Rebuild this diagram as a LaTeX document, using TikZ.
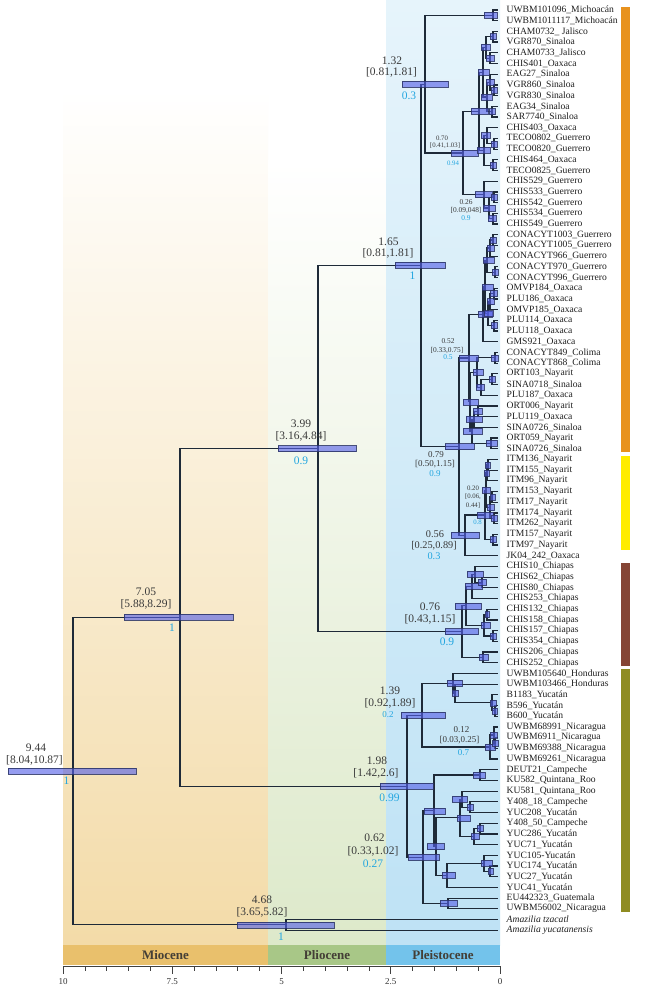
\documentclass[tikz,border=0pt]{standalone}
\usepackage{fontspec}
\setmainfont{Liberation Serif}
\definecolor{treec}{HTML}{1E2A38}
\definecolor{barc}{HTML}{5560E8}
\definecolor{bard}{HTML}{2A3366}
\definecolor{mioc}{HTML}{F3DBA8}
\definecolor{plio}{HTML}{DDE9CA}
\definecolor{pleitop}{HTML}{E6F4FB}
\definecolor{pleibot}{HTML}{BEE2F5}
\definecolor{miob}{HTML}{E9C06C}
\definecolor{plib}{HTML}{A8C787}
\definecolor{pleb}{HTML}{73C3EB}
\definecolor{labc}{HTML}{3A3A3A}
\definecolor{postc}{HTML}{23A6E0}
\definecolor{cOr}{HTML}{E8921E}
\definecolor{cYe}{HTML}{FFEC00}
\definecolor{cBr}{HTML}{854535}
\definecolor{cOl}{HTML}{8F8C22}
\definecolor{epc}{HTML}{443F36}
\tikzset{
 br/.style={draw=treec, line width=1.2pt},
 bar/.style={fill=barc, fill opacity=0.62, draw=bard, draw opacity=0.85, line width=0.5pt},
 tip/.style={anchor=west, inner sep=0pt, text=black!88, font=\fontsize{9.6}{10}\selectfont},
 agebig/.style={inner sep=0pt, text=labc, font=\fontsize{11.5}{12}\selectfont},
 agemid/.style={inner sep=0pt, text=labc, font=\fontsize{9}{10}\selectfont},
 agesm/.style={inner sep=0pt, text=labc, font=\fontsize{6.8}{7}\selectfont},
 postbig/.style={inner sep=0pt, text=postc, font=\fontsize{11.5}{12}\selectfont},
 postmid/.style={inner sep=0pt, text=postc, font=\fontsize{9}{10}\selectfont},
 postsm/.style={inner sep=0pt, text=postc, font=\fontsize{6.8}{7}\selectfont},
 eplab/.style={inner sep=0pt, text=epc, font=\fontsize{13}{14}\selectfont\bfseries},
 axlab/.style={inner sep=0pt, text=black!80, font=\fontsize{9}{10}\selectfont},
}
\newcommand\hpd[3]{\path[bar] (#1,#3-3) rectangle (#2,#3+3);}
\begin{document}
\begin{tikzpicture}[x=1pt,y=-1pt]
\useasboundingbox (0,0) rectangle (669,990);
\fill[white] (0,0) rectangle (669,990);
% epoch backgrounds
\shade[top color=white, bottom color=mioc] (63,90) rectangle (268,945);
\shade[top color=white, bottom color=plio] (268,160) rectangle (386,945);
\shade[top color=pleitop, bottom color=pleibot] (386,0) rectangle (500,945);
% epoch band
\fill[miob] (63,945) rectangle (268,965);
\fill[plib] (268,945) rectangle (386,965);
\fill[pleb] (386,945) rectangle (500,965);
\node[eplab] (eMio) at (165.5,955.5) {Miocene};
\node[eplab] (ePli) at (327,955.5) {Pliocene};
\node[eplab] (ePle) at (443,955.5) {Pleistocene};
% axis
\draw[black!75, line width=0.8pt] (63,966) -- (500,966);
\foreach \k in {0,...,20}{
  \draw[black!75, line width=0.7pt] ({500-\k*0.5*43.7},966) -- ({500-\k*0.5*43.7},970.5);
}
\foreach \v/\t in {10/10,7.5/7.5,5/5,2.5/2.5,0/0}{
  \draw[black!75, line width=0.8pt] ({500-\v*43.7},966) -- ({500-\v*43.7},973.5);
  \node[axlab] (ax\t) at ({500-\v*43.7},982) {\t};
}
% clade colour bars
\fill[cOr] (621,7) rectangle (630,452);
\fill[cYe] (621,456) rectangle (630,550);
\fill[cBr] (621,563) rectangle (630,666);
\fill[cOl] (621,669) rectangle (630,912);
% tips
\foreach \lab [count=\i] in {
UWBM101096\_Michoacán, UWBM1011117\_Michoacán, CHAM0732\_ Jalisco, VGR870\_Sinaloa,
CHAM0733\_Jalisco, CHIS401\_Oaxaca, EAG27\_Sinaloa, VGR860\_Sinaloa, VGR830\_Sinaloa,
EAG34\_Sinaloa, SAR7740\_Sinaloa, CHIS403\_Oaxaca, TECO0802\_Guerrero, TECO0820\_Guerrero,
CHIS464\_Oaxaca, TECO0825\_Guerrero, CHIS529\_Guerrero, CHIS533\_Guerrero, CHIS542\_Guerrero,
CHIS534\_Guerrero, CHIS549\_Guerrero, CONACYT1003\_Guerrero, CONACYT1005\_Guerrero,
CONACYT966\_Guerrero, CONACYT970\_Guerrero, CONACYT996\_Guerrero, OMVP184\_Oaxaca,
PLU186\_Oaxaca, OMVP185\_Oaxaca, PLU114\_Oaxaca, PLU118\_Oaxaca, GMS921\_Oaxaca,
CONACYT849\_Colima, CONACYT868\_Colima, ORT103\_Nayarit, SINA0718\_Sinaloa, PLU187\_Oaxaca,
ORT006\_Nayarit, PLU119\_Oaxaca, SINA0726\_Sinaloa, ORT059\_Nayarit, SINA0726\_Sinaloa,
ITM136\_Nayarit, ITM155\_Nayarit, ITM96\_Nayarit, ITM153\_Nayarit, ITM17\_Nayarit,
ITM174\_Nayarit, ITM262\_Nayarit, ITM157\_Nayarit, ITM97\_Nayarit, JK04\_242\_Oaxaca,
CHIS10\_Chiapas, CHIS62\_Chiapas, CHIS80\_Chiapas, CHIS253\_Chiapas, CHIS132\_Chiapas,
CHIS158\_Chiapas, CHIS157\_Chiapas, CHIS354\_Chiapas, CHIS206\_Chiapas, CHIS252\_Chiapas,
UWBM105640\_Honduras, UWBM103466\_Honduras, B1183\_Yucatán, B596\_Yucatán, B600\_Yucatán,
UWBM68991\_Nicaragua, UWBM6911\_Nicaragua, UWBM69388\_Nicaragua, UWBM69261\_Nicaragua,
DEUT21\_Campeche, KU582\_Quintana\_Roo, KU581\_Quintana\_Roo, Y408\_18\_Campeche,
YUC208\_Yucatán, Y408\_50\_Campeche, YUC286\_Yucatán, YUC71\_Yucatán, YUC105-Yucatán,
YUC174\_Yucatán, YUC27\_Yucatán, YUC41\_Yucatán, EU442323\_Guatemala, UWBM56002\_Nicaragua,
{\itshape Amazilia tzacatl}, {\itshape Amazilia yucatanensis}}{
  \pgfmathsetmacro\yy{10+(\i-1)*10.7}
  \coordinate (t\i) at (498,\yy);
  \node[tip] (l\i) at (506.5,\yy) {\lab};
}
% internal nodes
\coordinate (p12) at (493,15.35);
\coordinate (p34) at (493,36.75);
\coordinate (p56) at (490,58.15);
\coordinate (n3_6) at (486,47.45);
\coordinate (p89) at (494,90.25);
\coordinate (n7_9) at (490,82.23);
\coordinate (p1011) at (492,111.65);
\coordinate (n7_11) at (487,96.94);
\coordinate (n3_11) at (483,72.19);
\coordinate (p1314) at (494,143.75);
\coordinate (n12_14) at (487,135.73);
\coordinate (p1516) at (493,165.15);
\coordinate (n12_16) at (484,150.44);
\coordinate (n1) at (479,111.31);
\coordinate (p1819) at (494,197.25);
\coordinate (p2021) at (493,218.65);
\coordinate (n18_21) at (489,207.95);
\coordinate (n026) at (484,194.58);
\coordinate (n070) at (463,152.94);
\coordinate (n132) at (425,84.15);
\coordinate (p2223) at (493,240.05);
\coordinate (n22_24) at (490,248.08);
\coordinate (p2526) at (495,272.15);
\coordinate (n22_26) at (487,260.11);
\coordinate (p2728) at (494,293.55);
\coordinate (n27_29) at (490,301.58);
\coordinate (p3031) at (494,325.65);
\coordinate (n27_31) at (488,313.61);
\coordinate (n22_31) at (485,286.86);
\coordinate (n22_32) at (483,314.28);
\coordinate (p3334) at (495,357.75);
\coordinate (p3536) at (492,379.15);
\coordinate (n35_37) at (481,387.18);
\coordinate (n33_37) at (477,372.46);
\coordinate (n38_39) at (478,411.25);
\coordinate (n38_40) at (474,419.28);
\coordinate (p4142) at (491,443.35);
\coordinate (n38_42) at (472,431.31);
\coordinate (n33_42) at (470,401.89);
\coordinate (n052) at (469,358.08);
\coordinate (p4344) at (488,464.75);
\coordinate (n43_45) at (487,472.78);
\coordinate (p4647) at (492,496.85);
\coordinate (p4849) at (494,518.25);
\coordinate (n46_49) at (490,507.55);
\coordinate (n43_49) at (486,490.16);
\coordinate (p5051) at (493,539.65);
\coordinate (n020) at (485,514.9);
\coordinate (n056) at (465,535.3);
\coordinate (n079) at (459,446.69);
\coordinate (n165) at (421,265.42);
\coordinate (p5455) at (482,582.45);
\coordinate (n53_55) at (475,574.43);
\coordinate (n53_56) at (472,586.46);
\coordinate (p5758) at (487,614.55);
\coordinate (p5960) at (493,635.95);
\coordinate (n57_60) at (484,625.25);
\coordinate (n53_60) at (466,605.86);
\coordinate (p6162) at (483,657.35);
\coordinate (n076) at (462,631.6);
\coordinate (n399) at (318,448.51);
\coordinate (p6667) at (495,710.85);
\coordinate (n65_67) at (492,702.83);
\coordinate (n64_67) at (455,693.46);
\coordinate (n63_67) at (453,683.43);
\coordinate (p6970) at (495,742.95);
\coordinate (n68_70) at (494,734.93);
\coordinate (n012) at (490,746.96);
\coordinate (n139) at (422,715.2);
\coordinate (p7273) at (480,775.05);
\coordinate (p7576) at (470,807.15);
\coordinate (n74_76) at (462,799.13);
\coordinate (p7778) at (480,828.55);
\coordinate (n77_79) at (474,836.58);
\coordinate (n74_79) at (460,817.85);
\coordinate (p8182) at (490,871.35);
\coordinate (n80_82) at (484,863.33);
\coordinate (n80_83) at (447,875.36);
\coordinate (nR) at (436,846.6);
\coordinate (nQ) at (434,810.83);
\coordinate (p8485) at (448,903.45);
\coordinate (n062) at (423,857.14);
\coordinate (n198) at (407,786.17);
\coordinate (n705) at (180,617.34);
\coordinate (n468) at (286,924.85);
\coordinate (root) at (73,771.1);
% branches
\foreach \p/\c in {p12/t1,p12/t2,p34/t3,p34/t4,p56/t5,p56/t6,n3_6/p34,n3_6/p56,
 p89/t8,p89/t9,n7_9/t7,n7_9/p89,p1011/t10,p1011/t11,n7_11/n7_9,n7_11/p1011,
 n3_11/n3_6,n3_11/n7_11,p1314/t13,p1314/t14,n12_14/t12,n12_14/p1314,p1516/t15,p1516/t16,
 n12_16/n12_14,n12_16/p1516,n1/n3_11,n1/n12_16,p1819/t18,p1819/t19,p2021/t20,p2021/t21,
 n18_21/p1819,n18_21/p2021,n026/t17,n026/n18_21,n070/n1,n070/n026,n132/p12,n132/n070,
 p2223/t22,p2223/t23,n22_24/p2223,n22_24/t24,p2526/t25,p2526/t26,n22_26/n22_24,n22_26/p2526,
 p2728/t27,p2728/t28,n27_29/p2728,n27_29/t29,p3031/t30,p3031/t31,n27_31/n27_29,n27_31/p3031,
 n22_31/n22_26,n22_31/n27_31,n22_32/n22_31,n22_32/t32,p3334/t33,p3334/t34,p3536/t35,p3536/t36,
 n35_37/p3536,n35_37/t37,n33_37/p3334,n33_37/n35_37,n38_39/t38,n38_39/t39,n38_40/n38_39,n38_40/t40,
 p4142/t41,p4142/t42,n38_42/n38_40,n38_42/p4142,n33_42/n33_37,n33_42/n38_42,n052/n22_32,n052/n33_42,
 p4344/t43,p4344/t44,n43_45/p4344,n43_45/t45,p4647/t46,p4647/t47,p4849/t48,p4849/t49,
 n46_49/p4647,n46_49/p4849,n43_49/n43_45,n43_49/n46_49,p5051/t50,p5051/t51,n020/n43_49,n020/p5051,
 n056/n020,n056/t52,n079/n052,n079/n056,n165/n132,n165/n079,
 p5455/t54,p5455/t55,n53_55/t53,n53_55/p5455,n53_56/n53_55,n53_56/t56,p5758/t57,p5758/t58,
 p5960/t59,p5960/t60,n57_60/p5758,n57_60/p5960,n53_60/n53_56,n53_60/n57_60,p6162/t61,p6162/t62,
 n076/n53_60,n076/p6162,n399/n165,n399/n076,
 n63_67/t63,n63_67/n64_67,n64_67/t64,n64_67/n65_67,n65_67/t65,n65_67/p6667,p6667/t66,p6667/t67,
 n68_70/t68,n68_70/p6970,p6970/t69,p6970/t70,n012/n68_70,n012/t71,n139/n63_67,n139/n012,
 p7273/t72,p7273/t73,p7576/t75,p7576/t76,n74_76/t74,n74_76/p7576,p7778/t77,p7778/t78,
 n77_79/p7778,n77_79/t79,n74_79/n74_76,n74_79/n77_79,p8182/t81,p8182/t82,n80_82/t80,n80_82/p8182,
 n80_83/n80_82,n80_83/t83,nR/n74_79,nR/n80_83,nQ/p7273,nQ/nR,p8485/t84,p8485/t85,
 n062/nQ,n062/p8485,n198/n139,n198/n062,n705/n399,n705/n198,n468/t86,n468/t87,
 root/n705,root/n468}{
  \draw[br] (\p) |- (\c);
}
% HPD bars
\hpd{8}{136}{771.1}
\hpd{124}{233}{617.34}
\hpd{237}{334}{924.85}
\hpd{278}{356}{448.51}
\hpd{380}{433}{786.17}
\hpd{395}{445}{265.42}
\hpd{402}{448}{84.15}
\hpd{451}{478}{152.94}
\hpd{471}{488}{111.31}
\hpd{478}{489}{72.19}
\hpd{481}{490}{47.45}
\hpd{490}{496}{36.75}
\hpd{486}{494}{58.15}
\hpd{481}{492}{96.94}
\hpd{486}{494}{82.23}
\hpd{491}{497}{90.25}
\hpd{489}{495}{111.65}
\hpd{477}{490}{150.44}
\hpd{481}{490}{135.73}
\hpd{491}{497}{143.75}
\hpd{490}{496}{165.15}
\hpd{475}{492}{194.58}
\hpd{483}{495}{207.95}
\hpd{491}{497}{197.25}
\hpd{488}{496}{218.65}
\hpd{484}{497}{15.35}
\hpd{459}{478}{358.08}
\hpd{478}{492}{314.28}
\hpd{482}{493}{286.86}
\hpd{483}{494}{260.11}
\hpd{487}{494}{248.08}
\hpd{490}{496}{240.05}
\hpd{492}{498}{272.15}
\hpd{484}{493}{313.61}
\hpd{487}{494}{301.58}
\hpd{490}{497}{293.55}
\hpd{491}{497}{325.65}
\hpd{463}{478}{401.89}
\hpd{473}{483}{372.46}
\hpd{491}{498}{357.75}
\hpd{476}{484}{387.18}
\hpd{489}{495}{379.15}
\hpd{463}{482}{431.31}
\hpd{466}{482}{419.28}
\hpd{473}{482}{411.25}
\hpd{486}{497}{443.35}
\hpd{445}{474}{446.69}
\hpd{451}{479}{535.3}
\hpd{477}{493}{514.9}
\hpd{482}{490}{490.16}
\hpd{484}{489}{472.78}
\hpd{485}{490}{464.75}
\hpd{487}{494}{507.55}
\hpd{490}{495}{496.85}
\hpd{491}{497}{518.25}
\hpd{490}{496}{539.65}
\hpd{445}{478}{631.6}
\hpd{455}{481}{605.86}
\hpd{465}{482}{586.46}
\hpd{467}{483}{574.43}
\hpd{478}{486}{582.45}
\hpd{481}{490}{625.25}
\hpd{485}{489}{614.55}
\hpd{490}{496}{635.95}
\hpd{479}{488}{657.35}
\hpd{401}{445}{715.2}
\hpd{447}{462}{683.43}
\hpd{452}{458}{693.46}
\hpd{490}{496}{702.83}
\hpd{492}{497}{710.85}
\hpd{485}{495}{746.96}
\hpd{490}{497}{734.93}
\hpd{492}{498}{742.95}
\hpd{408}{439}{857.14}
\hpd{424}{445}{810.83}
\hpd{473}{485}{775.05}
\hpd{427}{444}{846.6}
\hpd{457}{470}{817.85}
\hpd{452}{467}{799.13}
\hpd{467}{473}{807.15}
\hpd{471}{479}{836.58}
\hpd{477}{483}{828.55}
\hpd{442}{455}{875.36}
\hpd{481}{492}{863.33}
\hpd{488}{493}{871.35}
\hpd{440}{457}{903.45}
% node labels
\node[agebig] (a944) at (36,748) {9.44};
\node[agebig] (h944) at (34.5,760.5) {[8.04,10.87]};
\node[postbig] (q944) at (66.5,781) {1};
\node[agebig] (a705) at (146,592) {7.05};
\node[agebig] (h705) at (146,604.5) {[5.88,8.29]};
\node[postbig] (q705) at (172,628) {1};
\node[agebig] (a468) at (262,900) {4.68};
\node[agebig] (h468) at (262,912.5) {[3.65,5.82]};
\node[postbig] (q468) at (281,937) {1};
\node[agebig] (a399) at (301,423.5) {3.99};
\node[agebig] (h399) at (301,436) {[3.16,4.84]};
\node[postbig] (q399) at (301,461) {0.9};
\node[agebig] (a198) at (377,760.5) {1.98};
\node[agebig] (h198) at (376,773.5) {[1.42,2.6]};
\node[postbig] (q198) at (389.5,797.5) {0.99};
\node[agebig] (a062) at (374.5,838) {0.62};
\node[agebig] (h062) at (373,851) {[0.33,1.02]};
\node[postbig] (q062) at (373,864) {0.27};
\node[agebig] (a165) at (388.5,242) {1.65};
\node[agebig] (h165) at (388,253.5) {[0.81,1.81]};
\node[postbig] (q165) at (412.5,276) {1};
\node[agebig] (a132) at (392,61) {1.32};
\node[agebig] (h132) at (391.5,72) {[0.81,1.81]};
\node[postbig] (q132) at (409,95.5) {0.3};
\node[agebig] (a139) at (390,691) {1.39};
\node[agebig] (h139) at (390,703.5) {[0.92,1.89]};
\node[postmid] (q139) at (388,714.5) {0.2};
\node[agebig] (a076) at (430,607) {0.76};
\node[agebig] (h076) at (430,619.5) {[0.43,1.15]};
\node[postbig] (q076) at (447,642) {0.9};
\node[agemid, font=\fontsize{10.3}{11}\selectfont] (a056) at (435,534.5) {0.56};
\node[agemid, font=\fontsize{10.3}{11}\selectfont] (h056) at (434,545.5) {[0.25,0.89]};
\node[postmid, font=\fontsize{10.3}{11}\selectfont] (q056) at (434,556) {0.3};
\node[agemid] (a079) at (436,455) {0.79};
\node[agemid] (h079) at (435,464) {[0.50,1.15]};
\node[postmid] (q079) at (435,474) {0.9};
\node[agemid] (a012) at (461.5,729.5) {0.12};
\node[agemid] (h012) at (459.5,740.5) {[0.03,0.25]};
\node[postmid] (q012) at (463.5,752.5) {0.7};
\node[agesm] (a070) at (442,138) {0.70};
\node[agesm] (h070) at (445,146) {[0.41,1.03]};
\node[postsm] (q070) at (453,163.5) {0.94};
\node[agesm, font=\fontsize{7.4}{8}\selectfont] (a026) at (466,202) {0.26};
\node[agesm, font=\fontsize{7.4}{8}\selectfont] (h026) at (466,210.5) {[0.09,048]};
\node[postsm, font=\fontsize{7.4}{8}\selectfont] (q026) at (466,218.5) {0.9};
\node[agesm, font=\fontsize{7.4}{8}\selectfont] (a052) at (448,341) {0.52};
\node[agesm, font=\fontsize{7.4}{8}\selectfont] (h052) at (447,350) {[0.33,0.75]};
\node[postsm, font=\fontsize{7.4}{8}\selectfont] (q052) at (448,357.5) {0.5};
\node[agesm] (a020) at (473,488) {0.20};
\node[agesm] (h020) at (473,497) {[0.06,};
\node[agesm] (i020) at (473,505.5) {0.44]};
\node[postsm] (q020) at (477.5,522.5) {0.8};
\end{tikzpicture}
\end{document}
